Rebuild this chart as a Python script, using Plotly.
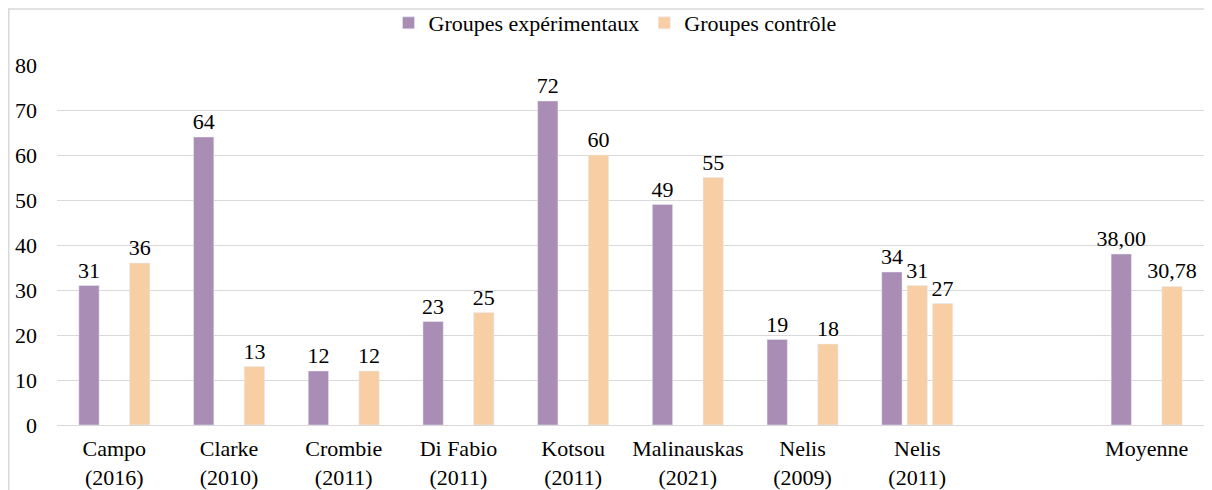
import plotly.graph_objects as go

categories = ["Campo<br>(2016)", "Clarke<br>(2010)", "Crombie<br>(2011)", "Di Fabio<br>(2011)",
              "Kotsou<br>(2011)", "Malinauskas<br>(2021)", "Nelis<br>(2009)", "Nelis<br>(2011)",
              " ", "Moyenne"]
exp_values = [31, 64, 12, 23, 72, 49, 19, 34, None, 38.00]
ctrl_values_a = [None, None, None, None, None, None, None, 31, None, None]
ctrl_values_b = [36, 13, 12, 25, 60, 55, 18, 27, None, 30.78]
y_ticks = [0, 10, 20, 30, 40, 50, 60, 70, 80]

PURPLE = "#A98DB5"
ORANGE = "#F8CFA5"
FONT = "Liberation Serif"
FS = 22

W, H = 1204, 482
L, R, T, B = 49, 8, 57, 65
PH = H - T - B
PW = W - L - R


def labels(vals):
    out = []
    for i, v in enumerate(vals):
        if v is None:
            out.append("")
        elif categories[i] == "Moyenne":
            out.append(f"{v:.2f}".replace(".", ","))
        else:
            out.append(f"{v:.0f}")
    return out


fig = go.Figure()
fig.add_trace(go.Bar(x=categories, y=exp_values, name="Groupes expérimentaux",
                     marker=dict(color=PURPLE), text=labels(exp_values),
                     textposition="outside", constraintext="none", cliponaxis=False,
                     textfont=dict(size=FS, color="#000000", family=FONT)))
fig.add_trace(go.Bar(x=categories, y=ctrl_values_a, name="Groupes contrôle",
                     marker=dict(color=ORANGE), text=labels(ctrl_values_a),
                     textposition="outside", constraintext="none", cliponaxis=False,
                     showlegend=False, legendgroup="ctrl",
                     textfont=dict(size=FS, color="#000000", family=FONT)))
fig.add_trace(go.Bar(x=categories, y=ctrl_values_b, name="Groupes contrôle",
                     marker=dict(color=ORANGE), text=labels(ctrl_values_b),
                     textposition="outside", constraintext="none", cliponaxis=False,
                     legendgroup="ctrl",
                     textfont=dict(size=FS, color="#000000", family=FONT)))

fig.update_layout(
    width=W, height=H,
    margin=dict(l=L, r=R, t=T, b=B, autoexpand=False),
    paper_bgcolor="white", plot_bgcolor="white",
    font=dict(family=FONT, size=FS, color="#000000"),
    barmode="group", bargap=0.337, bargroupgap=0.2,
    showlegend=True,
    legend=dict(orientation="h", x=(615 - 57) / PW, xanchor="center", y=1.0 + (T - 15) / PH,
                yanchor="middle", font=dict(size=FS, family=FONT),
                itemwidth=30, tracegroupgap=0, bgcolor="rgba(0,0,0,0)"),
    xaxis=dict(type="category", categoryorder="array", categoryarray=categories,
               showgrid=False, showline=False, ticks="", zeroline=False,
               ticklabelstandoff=8,
               tickfont=dict(size=FS, family=FONT)),
    yaxis=dict(range=[0, 80], tickvals=y_ticks, showgrid=True, gridcolor="#D9D9D9",
               gridwidth=1, zeroline=True, zerolinecolor="#D9D9D9", zerolinewidth=1,
               showline=False, ticks="", ticklabelstandoff=19,
               tickfont=dict(size=FS, family=FONT)),
    shapes=[dict(type="rect", xref="paper", yref="paper",
                 x0=(0.75 - L) / PW, x1=1.02, y0=-0.3, y1=1.0 + (T - 1) / PH,
                 line=dict(color="#D9D9D9", width=1.5), fillcolor="rgba(0,0,0,0)",
                 layer="below")],
)

fig.write_html("out.html")
